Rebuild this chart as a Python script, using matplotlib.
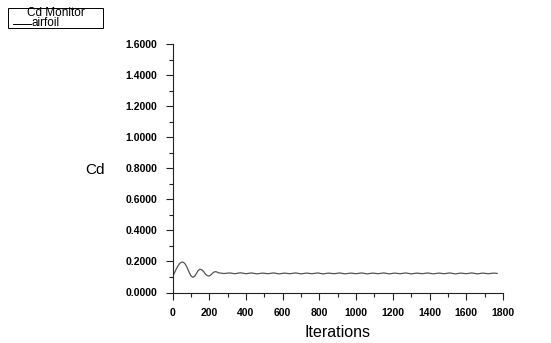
import matplotlib
matplotlib.use("Agg")
import matplotlib.pyplot as plt
import matplotlib.patches as patches
from matplotlib.ticker import MultipleLocator, FormatStrFormatter
from matplotlib.lines import Line2D

plt.rcParams['font.family'] = ['Liberation Sans', 'DejaVu Sans']

# Cd monitor history
iterations = [0, 10, 20, 30, 40, 50, 60, 70, 80, 90, 100, 110, 120, 130, 140,
              150, 160, 170, 180, 190, 200, 210, 220, 230, 240, 250,
              280, 310, 340, 370, 400, 430, 460, 490, 520, 550, 580, 610, 640,
              670, 700, 730, 760, 790, 820, 850, 880, 910, 940, 970, 1000,
              1030, 1060, 1090, 1120, 1150, 1180, 1210, 1240, 1270, 1300,
              1330, 1360, 1390, 1420, 1450, 1480, 1510, 1540, 1570, 1600,
              1630, 1660, 1690, 1720, 1750, 1768]
cd = [0.100, 0.125, 0.150, 0.172, 0.188, 0.196, 0.194, 0.182, 0.160, 0.132,
      0.108, 0.098, 0.104, 0.122, 0.142, 0.150, 0.146, 0.134, 0.118, 0.108,
      0.106, 0.114, 0.126, 0.134, 0.133, 0.127,
      0.122, 0.126, 0.121, 0.127, 0.121, 0.126, 0.120, 0.125, 0.121, 0.126,
      0.120, 0.125, 0.121, 0.126, 0.120, 0.125, 0.121, 0.126, 0.120, 0.125,
      0.121, 0.126, 0.120, 0.125, 0.121, 0.126, 0.120, 0.125, 0.121, 0.126,
      0.120, 0.125, 0.121, 0.126, 0.120, 0.125, 0.121, 0.126, 0.120, 0.125,
      0.121, 0.126, 0.120, 0.125, 0.121, 0.126, 0.120, 0.125, 0.121, 0.125,
      0.123]

W, H = 551, 343
fig = plt.figure(figsize=(W / 100, H / 100), dpi=100)
ax = fig.add_axes([172.5 / W, (H - 292.5) / H, (503 - 172.5) / W, (292.5 - 44) / H])

ax.plot(iterations, cd, color='#555555', lw=0.9)

ax.set_xlim(0, 1800)
ax.set_ylim(0, 1.6)
ax.xaxis.set_major_locator(MultipleLocator(200))
ax.xaxis.set_minor_locator(MultipleLocator(100))
ax.yaxis.set_major_locator(MultipleLocator(0.2))
ax.yaxis.set_minor_locator(MultipleLocator(0.1))
ax.yaxis.set_major_formatter(FormatStrFormatter('%.4f'))

for s in ['top', 'right']:
    ax.spines[s].set_visible(False)
for s in ['left', 'bottom']:
    ax.spines[s].set_linewidth(0.8)
    ax.spines[s].set_color('#222222')

ax.tick_params(which='major', length=5, width=0.8, labelsize=7.5, color='#222222')
ax.tick_params(which='minor', length=3, width=0.8, color='#222222')
ax.tick_params(axis='y', pad=6)
ax.tick_params(axis='x', pad=6)
for lab in ax.get_xticklabels() + ax.get_yticklabels():
    lab.set_fontweight('bold')

ax.set_xlabel('Iterations', fontsize=11.5, labelpad=5)
fig.text(95 / W, 1 - 170 / H, 'Cd', fontsize=11, ha='center', va='center')

# legend box at top left
fig.patches.append(patches.Rectangle((8 / W, 1 - 28 / H), 95 / W, 20 / H,
                                     transform=fig.transFigure, fill=False,
                                     edgecolor='black', linewidth=0.7))
fig.text(56 / W, 1 - 12.5 / H, 'Cd Monitor', fontsize=8.5, ha='center', va='center')
fig.lines.append(Line2D([13 / W, 31 / W], [1 - 24 / H, 1 - 24 / H],
                        transform=fig.transFigure, color='black', lw=0.7))
fig.text(31 / W, 1 - 22.5 / H, 'airfoil', fontsize=8.5, ha='left', va='center')

fig.savefig('out.png', dpi=100)
